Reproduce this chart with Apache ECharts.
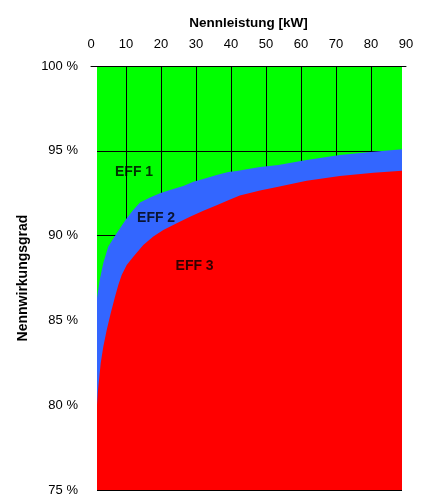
<!DOCTYPE html>
<html>
<head>
<meta charset="utf-8">
<script src="https://cdn.jsdelivr.net/npm/echarts@6/dist/echarts.min.js"></script>
<style>
  html, body { margin: 0; padding: 0; background: #fff; }
  #chart { width: 422px; height: 502px; }
</style>
</head>
<body>
<div id="chart"></div>
<script>
// Nennleistung in kW (x) und Wirkungsgrad in % (y)
var eff1X = [1.71, 2.49, 3.51, 4.94, 7.34, 10.2, 12.0, 14.0, 16.86, 19.71, 22.57, 26.37, 29.23, 33.06, 35.91, 39.23, 41.63, 48.29, 53.51, 61.6, 71.1, 80.7, 88.86]
var eff1Y = [86.32, 87.38, 88.38, 89.35, 90.14, 91.02, 91.5, 91.95, 92.25, 92.5, 92.69, 92.92, 93.18, 93.40, 93.57, 93.75, 93.81, 94.04, 94.16, 94.46, 94.75, 94.95, 95.09]

var eff2X = [1.71, 2.0, 2.29, 2.77, 3.51, 4.49, 5.63, 6.86, 7.8, 8.77, 10.2, 12.09, 14.94, 17.8, 20.66, 24.49, 28.29, 32.09, 35.91, 39.23, 42.5, 48.29, 53.51, 61.6, 71.1, 80.7, 88.86]
var eff2Y = [80.0, 80.9, 81.49, 82.47, 83.45, 84.43, 85.42, 86.40, 87.09, 87.68, 88.27, 88.76, 89.45, 89.94, 90.33, 90.73, 91.11, 91.47, 91.79, 92.08, 92.37, 92.66, 92.88, 93.24, 93.51, 93.71, 93.83]

// Achsen
var xTicks = [0, 10, 20, 30, 40, 50, 60, 70, 80, 90]
var xGridLines = [10, 20, 30, 40, 50, 60, 70, 80]
var plotX = [1.714, 88.857]   // sichtbarer Bereich der Zeichenfläche
var yRange = [75, 100]

// Beschriftungen der Klassen
var classNames = ["EFF 1", "EFF 2", "EFF 3"]
var classX = [12.3, 18.6, 29.6]
var classY = [93.77, 91.04, 88.17]

function pairs(xs, ys) {
  return xs.map(function (x, i) { return [x, ys[i]] })
}

var font = "Liberation Sans, Arial, sans-serif"
var chart = echarts.init(document.getElementById("chart"))

var option = {
  animation: false,
  grid: [
    { left: 97, right: 20, top: 66, bottom: 12, show: true, backgroundColor: "#00ff00", borderWidth: 0 },
    { left: 91, right: 16, top: 66, bottom: 12, show: false }
  ],
  xAxis: [
    {
      gridIndex: 0, type: "value", min: plotX[0], max: plotX[1],
      axisLine: { show: false }, axisTick: { show: false }, axisLabel: { show: false }, splitLine: { show: false }
    },
    {
      gridIndex: 1, type: "value", position: "top", min: xTicks[0], max: xTicks[xTicks.length - 1], interval: 10,
      name: "Nennleistung [kW]", nameLocation: "middle", nameGap: 36,
      nameTextStyle: { fontFamily: font, fontWeight: "bold", fontSize: 13.5, color: "#000" },
      axisLine: { show: true, lineStyle: { color: "#000", width: 1 } },
      axisTick: { show: false },
      axisLabel: { fontFamily: font, fontSize: 13, color: "#000", margin: 15 },
      splitLine: { show: false }
    }
  ],
  yAxis: [
    {
      gridIndex: 0, type: "value", min: yRange[0], max: yRange[1], interval: 5,
      name: "Nennwirkungsgrad", nameLocation: "middle", nameGap: 67,
      nameTextStyle: { fontFamily: font, fontWeight: "bold", fontSize: 14, color: "#000" },
      axisLine: { show: false }, axisTick: { show: false },
      axisLabel: { fontFamily: font, fontSize: 13, color: "#000", margin: 19, formatter: "{value} %" },
      splitLine: { show: true, lineStyle: { color: "#000", width: 1 } }
    },
    {
      gridIndex: 1, type: "value", min: yRange[0], max: yRange[1], show: false
    }
  ],
  series: [
    {
      // senkrechte Gitterlinien
      type: "line", xAxisIndex: 0, yAxisIndex: 0, data: [], z: 1,
      markLine: {
        silent: true, symbol: "none", z: 1, label: { show: false },
        lineStyle: { color: "#000", width: 1, type: "solid" },
        data: xGridLines.map(function (v) { return { xAxis: v } })
      }
    },
    {
      name: "EFF 1", type: "line", xAxisIndex: 0, yAxisIndex: 0, z: 2,
      data: pairs(eff1X, eff1Y), symbol: "none",
      lineStyle: { width: 0 }, areaStyle: { color: "#3366ff", opacity: 1, origin: "start" }
    },
    {
      name: "EFF 2", type: "line", xAxisIndex: 0, yAxisIndex: 0, z: 3,
      data: pairs(eff2X, eff2Y), symbol: "none",
      lineStyle: { width: 0 }, areaStyle: { color: "#ff0000", opacity: 1, origin: "start" }
    },
    {
      type: "scatter", xAxisIndex: 0, yAxisIndex: 0, z: 4, symbolSize: 0, silent: true,
      data: classNames.map(function (n, i) { return { name: n, value: [classX[i], classY[i]] } }),
      label: {
        show: true, position: "inside", formatter: "{b}",
        fontFamily: font, fontWeight: "bold", fontSize: 14, color: "#000"
      }
    }
  ]
}
chart.setOption(option)
</script>
</body>
</html>
